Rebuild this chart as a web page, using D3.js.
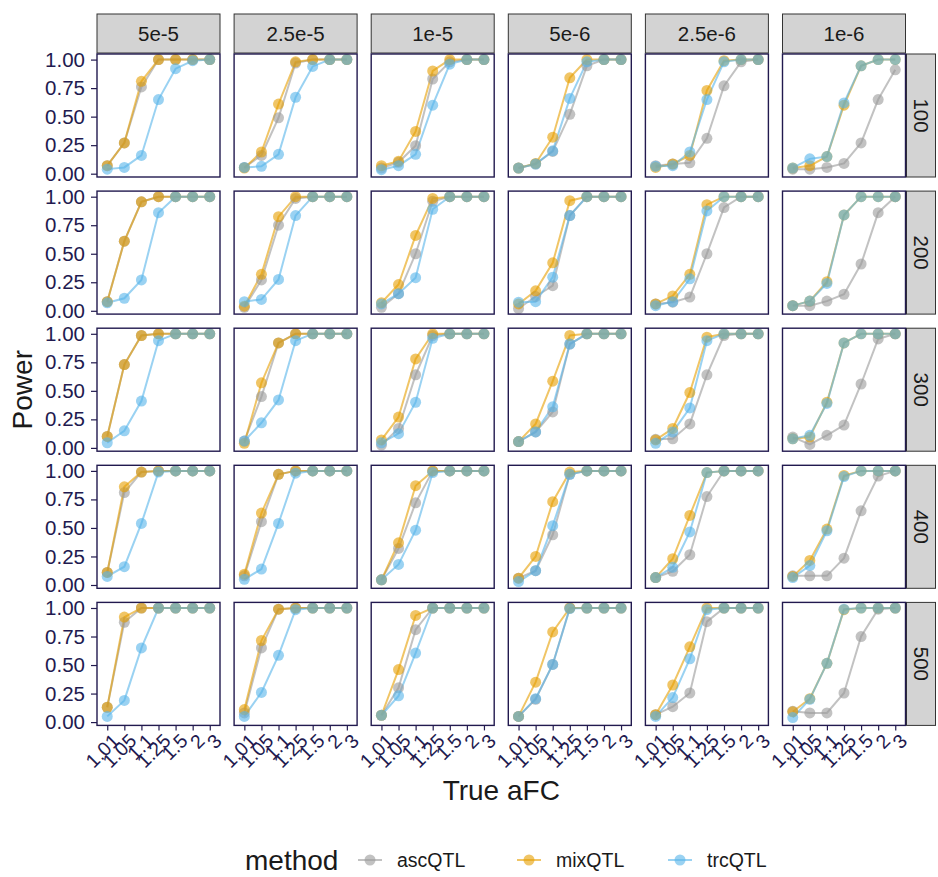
<!DOCTYPE html>
<html>
<head>
<meta charset="utf-8">
<script src="https://cdn.jsdelivr.net/npm/d3@7"></script>
<style>
  body { margin: 0; background: #fff; }
  text { font-family: "Liberation Sans", Arial, sans-serif; }
</style>
</head>
<body>
<div class="power-plot"></div>
<script>
// facets and categories
const thresholds = ['5e-5', '2.5e-5', '1e-5', '5e-6', '2.5e-6', '1e-6'];
const sampleSizes = ['100', '200', '300', '400', '500'];
const aFC = ['1.01', '1.05', '1.1', '1.25', '1.5', '2', '3'];
const methods = ['ascQTL', 'mixQTL', 'trcQTL'];

// power values: [sample size row][threshold column][aFC]
const ascQTL = [
  [[0.07,0.27,0.76,1,1,1,1],[0.055,0.16,0.49,0.97,1,1,1],[0.05,0.10,0.245,0.83,0.98,1,1],[0.05,0.085,0.195,0.52,0.945,1,1],[0.07,0.085,0.095,0.31,0.77,0.98,1],[0.04,0.04,0.055,0.09,0.27,0.65,0.91]],
  [[0.08,0.61,0.955,1,1,1,1],[0.03,0.27,0.75,0.985,1,1,1],[0.03,0.15,0.50,0.96,1,1,1],[0.02,0.125,0.22,0.835,1,1,1],[0.06,0.075,0.12,0.50,0.905,1,1],[0.045,0.045,0.085,0.145,0.41,0.86,1]],
  [[0.10,0.73,0.985,1,1,1,1],[0.06,0.45,0.92,1,1,1,1],[0.025,0.17,0.64,0.985,1,1,1],[0.055,0.14,0.315,0.91,1,1,1],[0.075,0.08,0.21,0.64,0.985,1,1],[0.095,0.03,0.11,0.20,0.56,0.955,1]],
  [[0.11,0.81,0.99,1,1,1,1],[0.08,0.555,0.97,1,1,1,1],[0.045,0.32,0.72,1,1,1,1],[0.06,0.125,0.44,0.97,1,1,1],[0.065,0.12,0.265,0.775,1,1,1],[0.08,0.08,0.08,0.235,0.65,0.955,1]],
  [[0.13,0.875,1,1,1,1,1],[0.08,0.65,0.99,1,1,1,1],[0.06,0.30,0.81,1,1,1,1],[0.05,0.20,0.505,1,1,1,1],[0.065,0.135,0.255,0.88,1,1,1],[0.095,0.08,0.08,0.255,0.75,0.99,1]]
];
const mixQTL = [
  [[0.07,0.27,0.81,1,1,1,1],[0.05,0.19,0.61,0.98,1,1,1],[0.07,0.11,0.37,0.90,1,1,1],[0.05,0.09,0.32,0.84,1,1,1],[0.055,0.085,0.16,0.73,0.99,1,1],[0.05,0.07,0.15,0.60,0.945,1,1]],
  [[0.08,0.61,0.955,1,1,1,1],[0.04,0.32,0.825,1,1,1,1],[0.07,0.23,0.66,0.985,1,1,1],[0.06,0.175,0.42,0.965,1,1,1],[0.06,0.13,0.32,0.93,1,1,1],[0.045,0.085,0.255,0.84,1,1,1]],
  [[0.10,0.73,0.985,1,1,1,1],[0.04,0.57,0.92,1,1,1,1],[0.07,0.27,0.78,1,1,1,1],[0.055,0.21,0.585,0.985,1,1,1],[0.07,0.17,0.485,0.97,1,1,1],[0.08,0.095,0.40,0.92,1,1,1]],
  [[0.11,0.86,0.99,1,1,1,1],[0.095,0.63,0.97,1,1,1,1],[0.045,0.37,0.87,1,1,1,1],[0.06,0.25,0.73,0.99,1,1,1],[0.065,0.23,0.61,0.985,1,1,1],[0.075,0.215,0.49,0.96,1,1,1]],
  [[0.13,0.92,1,1,1,1,1],[0.11,0.715,0.99,1,1,1,1],[0.06,0.46,0.935,1,1,1,1],[0.05,0.35,0.79,1,1,1,1],[0.065,0.325,0.66,1,1,1,1],[0.09,0.205,0.515,0.985,1,1,1]]
];
const trcQTL = [
  [[0.04,0.055,0.16,0.65,0.92,0.99,1],[0.055,0.065,0.17,0.67,0.94,1,1],[0.035,0.07,0.17,0.60,0.96,1,1],[0.05,0.085,0.20,0.66,0.98,1,1],[0.065,0.07,0.19,0.65,0.98,1,1],[0.05,0.13,0.15,0.62,0.945,1,1]],
  [[0.07,0.11,0.27,0.86,1,1,1],[0.08,0.10,0.275,0.835,1,1,1],[0.06,0.15,0.29,0.89,1,1,1],[0.075,0.08,0.295,0.835,1,1,1],[0.045,0.08,0.28,0.875,1,1,1],[0.045,0.085,0.24,0.84,1,1,1]],
  [[0.045,0.15,0.41,0.94,1,1,1],[0.06,0.22,0.42,0.94,1,1,1],[0.045,0.125,0.40,0.96,1,1,1],[0.055,0.14,0.36,0.91,1,1,1],[0.04,0.14,0.35,0.94,1,1,1],[0.08,0.11,0.39,0.92,1,1,1]],
  [[0.075,0.16,0.54,0.99,1,1,1],[0.05,0.14,0.54,0.98,1,1,1],[0.045,0.18,0.48,0.985,1,1,1],[0.03,0.125,0.52,0.97,1,1,1],[0.065,0.155,0.465,0.985,1,1,1],[0.065,0.17,0.475,0.95,1,1,1]],
  [[0.05,0.19,0.65,1,1,1,1],[0.05,0.26,0.585,0.985,1,1,1],[0.06,0.23,0.605,1,1,1,1],[0.05,0.205,0.505,0.995,1,1,1],[0.05,0.215,0.555,0.985,1,1,1],[0.04,0.20,0.515,0.99,1,1,1]]
];

const series = {ascQTL: ascQTL, mixQTL: mixQTL, trcQTL: trcQTL};
const colors = {ascQTL: '#999999', mixQTL: '#E69F00', trcQTL: '#56B4E9'};
const yTicks = [0, 0.25, 0.5, 0.75, 1];

const width = 938;
const height = 877;
const ink = '#221a4f';
const font = '"Liberation Sans", Arial, sans-serif';

const svg = d3.select('.power-plot')
  .append('svg')
  .attr('width', width)
  .attr('height', height);

// panel grid
const panelLeft = 97, panelTop = 54, panelW = 123, panelH = 123, step = 137.1;
const stripH = 40, stripW = 29;

const x = d3.scalePoint().domain(aFC).range([0, panelW]).padding(0.6);

let allVals = [];
methods.forEach(m => series[m].forEach(r => r.forEach(p => allVals = allVals.concat(p))));
const ext = d3.extent(allVals);
const pad = (ext[1] - ext[0]) * 0.05;
const y = d3.scaleLinear().domain([ext[0] - pad, ext[1] + pad]).range([panelH, 0]);

const line = d3.line()
  .x((d, i) => x(aFC[i]))
  .y(d => y(d));

// column strips
thresholds.forEach(function(t, c) {
  const gx = panelLeft + c * step;
  svg.append('rect')
    .attr('x', gx).attr('y', panelTop - stripH)
    .attr('width', panelW).attr('height', stripH - 1)
    .attr('fill', '#d3d3d3').attr('stroke', '#333').attr('stroke-width', 1);
  svg.append('text')
    .attr('x', gx + panelW / 2).attr('y', panelTop - stripH / 2)
    .attr('dy', '0.36em')
    .attr('text-anchor', 'middle')
    .attr('font-size', 20.5)
    .attr('fill', '#1a1a1a')
    .text(t);
});

// row strips
sampleSizes.forEach(function(s, r) {
  const gy = panelTop + r * step;
  const sx = panelLeft + 5 * step + panelW + 1;
  svg.append('rect')
    .attr('x', sx).attr('y', gy)
    .attr('width', stripW).attr('height', panelH)
    .attr('fill', '#d3d3d3').attr('stroke', '#333').attr('stroke-width', 1);
  svg.append('text')
    .attr('transform', 'translate(' + (sx + stripW / 2) + ',' + (gy + panelH / 2) + ') rotate(90)')
    .attr('dy', '0.36em')
    .attr('text-anchor', 'middle')
    .attr('font-size', 20.5)
    .attr('fill', '#1a1a1a')
    .text(s);
});

sampleSizes.forEach(function(s, r) {
  thresholds.forEach(function(t, c) {
    const g = svg.append('g')
      .attr('transform', 'translate(' + (panelLeft + c * step) + ',' + (panelTop + r * step) + ')');

    g.append('rect')
      .attr('width', panelW).attr('height', panelH)
      .attr('fill', 'white');

    methods.forEach(function(m) {
      g.append('path')
        .datum(series[m][r][c])
        .attr('d', line)
        .attr('fill', 'none')
        .attr('stroke', colors[m])
        .attr('stroke-opacity', 0.6)
        .attr('stroke-width', 2);
    });
    methods.forEach(function(m) {
      g.selectAll('.pt-' + m)
        .data(series[m][r][c])
        .enter()
        .append('circle')
        .attr('class', 'pt-' + m)
        .attr('cx', (d, i) => x(aFC[i]))
        .attr('cy', d => y(d))
        .attr('r', 5.5)
        .attr('fill', colors[m])
        .attr('fill-opacity', 0.6);
    });

    g.append('rect')
      .attr('width', panelW).attr('height', panelH)
      .attr('fill', 'none')
      .attr('stroke', ink).attr('stroke-width', 1.4);

    if (c === 0) {
      const ya = g.append('g')
        .call(d3.axisLeft(y).tickValues(yTicks).tickFormat(d3.format('.2f')).tickSize(6).tickPadding(6));
      ya.select('.domain').remove();
      ya.selectAll('line').attr('stroke', ink).attr('stroke-width', 1.2);
      ya.selectAll('text').attr('font-size', 20.5).attr('fill', ink)
        .attr('font-family', font);
    }
    if (r === sampleSizes.length - 1) {
      const xa = g.append('g')
        .attr('transform', 'translate(0,' + panelH + ')')
        .call(d3.axisBottom(x).tickSize(5).tickPadding(2));
      xa.select('.domain').remove();
      xa.selectAll('line').attr('stroke', ink).attr('stroke-width', 1.2);
      xa.selectAll('text')
        .attr('font-size', 19.5).attr('fill', ink)
        .attr('font-family', font)
        .attr('text-anchor', 'end')
        .attr('transform', 'translate(3,7) rotate(-45)')
        .attr('y', 0).attr('dy', '0.71em');
    }
  });
});

// axis titles
const plotMidX = panelLeft + (5 * step + panelW) / 2;
const plotMidY = panelTop + (4 * step + panelH) / 2;
svg.append('text')
  .attr('x', plotMidX).attr('y', 800)
  .attr('text-anchor', 'middle')
  .attr('font-size', 28)
  .attr('fill', '#1a1a1a')
  .text('True aFC');
svg.append('text')
  .attr('transform', 'translate(32,' + plotMidY + ') rotate(-90)')
  .attr('text-anchor', 'middle')
  .attr('font-size', 28)
  .attr('fill', '#1a1a1a')
  .text('Power');

// legend
const legend = svg.append('g').attr('transform', 'translate(0,860)');
legend.append('text')
  .attr('x', 245).attr('y', 0).attr('dy', '0.36em')
  .attr('font-size', 28).attr('fill', '#1a1a1a')
  .text('method');
const keyX = [370, 529, 680];
methods.forEach(function(m, i) {
  const k = legend.append('g').attr('transform', 'translate(' + keyX[i] + ',0)');
  k.append('line')
    .attr('x1', -12).attr('x2', 12)
    .attr('stroke', colors[m]).attr('stroke-opacity', 0.6).attr('stroke-width', 2);
  k.append('circle')
    .attr('r', 5.5).attr('fill', colors[m]).attr('fill-opacity', 0.6);
  k.append('text')
    .attr('x', 27).attr('dy', '0.36em')
    .attr('font-size', 19.5).attr('fill', '#1a1a1a')
    .text(m);
});
</script>
</body>
</html>
